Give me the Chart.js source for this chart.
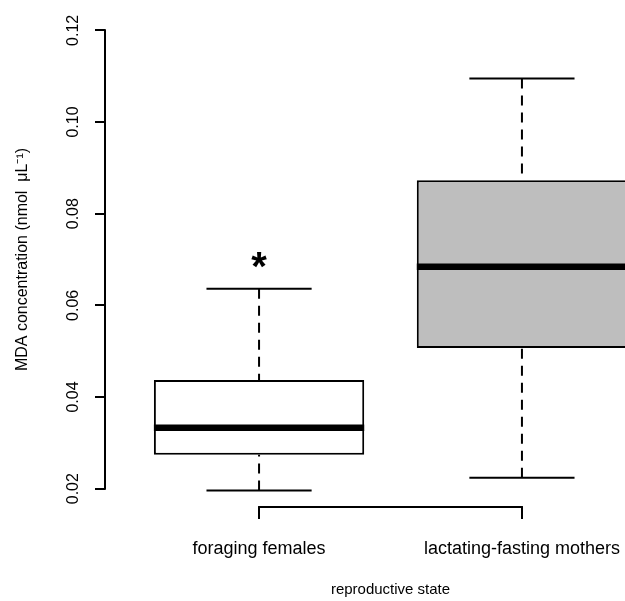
<!DOCTYPE html>
<html><head><meta charset="utf-8">
<script src="https://cdn.jsdelivr.net/npm/chart.js@4"></script>
<style>
html,body{margin:0;padding:0;overflow:hidden;background:#fff;}
#wrap{position:relative;width:676px;height:601px;}
</style></head>
<body><div id="wrap"><canvas id="c"></canvas></div>
<script>
// ---- data ----
const categories = ['foraging females', 'lactating-fasting mothers'];
const positions = [1, 2];
const whiskerLow = [0.0196, 0.0224];
const q1 = [0.0274, 0.0507];
const medians = [0.0333, 0.0684];
const q3 = [0.0437, 0.0873];
const whiskerHigh = [0.0636, 0.1095];
const boxColors = ['#ffffff', '#bebebe'];
const significance = ['*', ''];
const yTicks = [0.02, 0.04, 0.06, 0.08, 0.10, 0.12];
const yTitle = 'MDA concentration (nmol  \u03bcL\u207b\u00b9)';
const xTitle = 'reproductive state';

const FONT = "'Liberation Sans', Arial, Helvetica, sans-serif";

const boxExtras = {
  id: 'boxExtras',
  afterDatasetsDraw(chart) {
    const {ctx, scales: {x, y}, chartArea} = chart;
    const meta = chart.getDatasetMeta(0);
    const seg = (x1, y1, x2, y2) => { ctx.beginPath(); ctx.moveTo(x1, y1); ctx.lineTo(x2, y2); ctx.stroke(); };
    ctx.save();
    ctx.strokeStyle = '#000';
    ctx.fillStyle = '#000';
    categories.forEach((c, i) => {
      const bar = meta.data[i];
      const cx = x.getPixelForValue(positions[i]);
      const half = bar.width / 2;
      // whiskers (dashed, from whisker end towards the box)
      ctx.lineWidth = 2;
      ctx.lineCap = 'butt';
      ctx.setLineDash([10, 7]);
      seg(cx, y.getPixelForValue(whiskerHigh[i]), cx, y.getPixelForValue(q3[i]));
      seg(cx, y.getPixelForValue(whiskerLow[i]), cx, y.getPixelForValue(q1[i]));
      ctx.setLineDash([]);
      // staples
      seg(cx - half / 2, y.getPixelForValue(whiskerHigh[i]), cx + half / 2, y.getPixelForValue(whiskerHigh[i]));
      seg(cx - half / 2, y.getPixelForValue(whiskerLow[i]), cx + half / 2, y.getPixelForValue(whiskerLow[i]));
      // median
      ctx.lineWidth = 6.5;
      seg(cx - half, y.getPixelForValue(medians[i]), cx + half, y.getPixelForValue(medians[i]));
      // significance mark
      if (significance[i]) {
        ctx.font = 'bold 40px ' + FONT;
        ctx.textAlign = 'center';
        ctx.textBaseline = 'alphabetic';
        ctx.fillText(significance[i], cx, y.getPixelForValue(whiskerHigh[i]) - 9);
      }
    });
    // axis lines spanning first..last tick (R style)
    ctx.lineWidth = 2;
    ctx.lineCap = 'square';
    const yt = y.ticks;
    seg(chartArea.left, y.getPixelForValue(yt[0].value), chartArea.left, y.getPixelForValue(yt[yt.length - 1].value));
    const xt = x.ticks;
    seg(x.getPixelForValue(xt[0].value), chartArea.bottom, x.getPixelForValue(xt[xt.length - 1].value), chartArea.bottom);
    ctx.restore();
  }
};

new Chart(document.getElementById('c'), {
  type: 'bar',
  data: {
    datasets: [{
      data: positions.map((p, i) => ({ x: p, y: [q1[i], q3[i]] })),
      backgroundColor: boxColors,
      borderColor: '#000',
      borderWidth: 2,
      borderSkipped: false,
      barPercentage: 0.8,
      categoryPercentage: 1.0
    }]
  },
  options: {
    responsive: true,
    maintainAspectRatio: false,
    animation: false,
    devicePixelRatio: 1,
    layout: { padding: { top: 12, left: 0, right: 0, bottom: 0 } },
    plugins: { legend: { display: false }, tooltip: { enabled: false } },
    scales: {
      x: {
        type: 'linear',
        min: 0.414,
        max: 2.586,
        offset: false,
        afterBuildTicks: (s) => { s.ticks = positions.map(v => ({ value: v })); },
        afterFit: (s) => { s.height = 94; s.paddingLeft = 0; s.paddingRight = 0; },
        border: { display: false },
        grid: { display: true, drawOnChartArea: false, drawTicks: true, tickLength: 12, color: '#000', lineWidth: 2, offset: false },
        ticks: {
          autoSkip: false, maxRotation: 0, minRotation: 0, padding: 19,
          color: '#000', font: { family: FONT, size: 18 },
          callback: (v) => categories[positions.indexOf(v)] ?? ''
        },
        title: { display: true, text: xTitle, color: '#000', font: { family: FONT, size: 15 }, padding: { top: 0, bottom: 2 } }
      },
      y: {
        min: 0.016,
        max: 0.124,
        afterBuildTicks: (s) => { s.ticks = yTicks.map(v => ({ value: v })); },
        afterFit: (s) => { s.width = 105; s.paddingTop = 0; s.paddingBottom = 0; },
        border: { display: false },
        grid: { display: true, drawOnChartArea: false, drawTicks: true, tickLength: 10, color: '#000', lineWidth: 2 },
        ticks: {
          minRotation: 90, maxRotation: 90, crossAlign: 'center', padding: 6,
          color: '#000', font: { family: FONT, size: 16 },
          callback: (v) => Number(v).toFixed(2)
        },
        title: { display: true, text: yTitle, color: '#000', font: { family: FONT, size: 16 }, padding: { top: 13, bottom: 0 } }
      }
    }
  },
  plugins: [boxExtras]
});
</script>
</body></html>
